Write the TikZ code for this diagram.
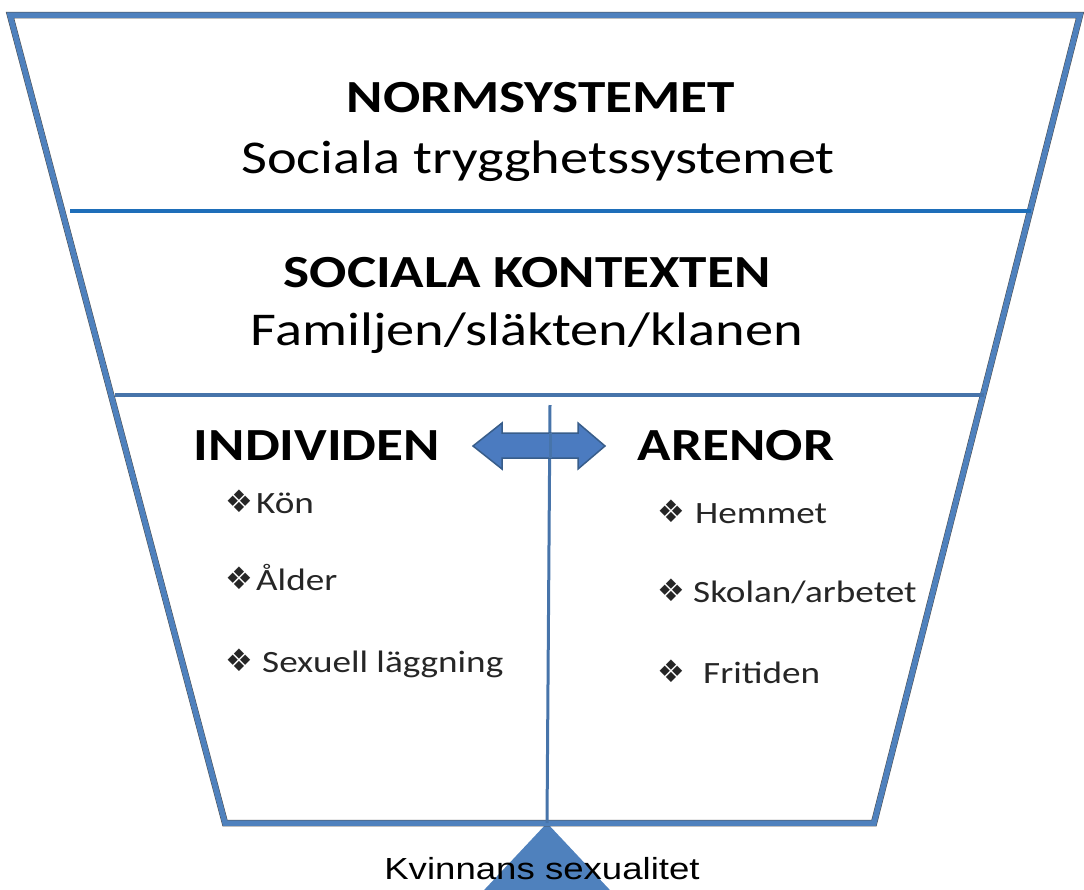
\documentclass[tikz,border=0pt]{standalone}
\usepackage{fontspec}
\setmainfont{Carlito}[FakeStretch=1.2]
\newfontfamily\arialf{Liberation Sans}[FakeStretch=1.2]
\newfontfamily\dejavu{DejaVu Sans}
\definecolor{frameblue}{RGB}{79,129,189}
\definecolor{lineblue}{RGB}{30,110,185}
\definecolor{arrowedge}{RGB}{56,93,138}
\newcommand{\blt}[1]{\makebox[#1pt][l]{\raisebox{1pt}{\dejavu\fontsize{31}{31}\selectfont ❖}}}
\tikzset{
  head/.style={font=\fontsize{46}{46}\selectfont\bfseries, anchor=base, inner sep=0pt},
  sub/.style={font=\fontsize{47}{47}\selectfont, anchor=base, inner sep=0pt},
  item/.style={font=\fontsize{31}{31}\selectfont, anchor=base west, inner sep=0pt, text=black!85},
  frame/.style={draw=frameblue, line width=5.5pt, line join=miter},
}
\begin{document}
\begin{tikzpicture}[x=1pt,y=-1pt]
\useasboundingbox (0,0) rectangle (1084,889);
% frame
\coordinate (tl) at (10,15);
\coordinate (tr) at (1080,15);
\coordinate (br) at (874,823);
\coordinate (bl) at (225,823);
% triangle
\coordinate (apex) at (547,823);
\coordinate (tbl) at (470,905);
\coordinate (tbr) at (624,905);
\fill[frameblue] (apex) -- (tbr) -- (tbl) -- cycle;
% outline
\draw[black!70, line width=6.5pt, line join=miter] (tl) -- (tr) -- (br) -- (bl) -- cycle;
\draw[frame] (tl) -- (tr) -- (br) -- (bl) -- cycle;
% dividers
\coordinate (d1l) at (70,211);
\coordinate (d1r) at (1031,211);
\coordinate (d2l) at (115,395);
\coordinate (d2r) at (984,395);
\draw[lineblue, line width=4pt] (d1l) -- (d1r);
\draw[frameblue!90!black, line width=3.5pt] (d2l) -- (d2r);
% vertical line
\coordinate (vt) at (550,405);
\draw[frameblue!90!black, line width=3pt] (vt) -- (apex);
% texts
\node[head] (norm) at (541,112) {NORMSYSTEMET};
\node[sub] (trygg) at (538,173) {Sociala trygghetssystemet};
\node[head] (soc) at (527,287) {SOCIALA KONTEXTEN};
\node[sub] (fam) at (527,345) {Familjen/släkten/klanen};
\node[head] (ind) at (317,460) {INDIVIDEN};
\node[head] (are) at (736,460) {ARENOR};
% double arrow
\fill[frameblue!95!blue, draw=arrowedge, line width=1.5pt, line join=miter]
  (473,446) -- (502,423) -- (502,433) -- (578,433) -- (578,423) -- (605,446)
  -- (578,469) -- (578,458) -- (502,458) -- (502,469) -- cycle;
\draw[frameblue!90!black, line width=3pt] (550,433) -- (550,458);
% bullet items
\node[item] (kon) at (225,513) {\blt{31}Kön};
\node[item] (alder) at (225,590) {\blt{31}Ålder};
\node[item] (sex) at (225,672) {\blt{37}Sexuell läggning};
\node[item] (hem) at (657,523) {\blt{38}Hemmet};
\node[item] (sko) at (657,602) {\blt{36}Skolan/arbetet};
\node[item] (fri) at (657,683) {\blt{46}Fritiden};
% bottom label
\node[font=\arialf\fontsize{30.5}{30.5}\selectfont, anchor=base, inner sep=0pt] (kvinna) at (542,879) {Kvinnans sexualitet};
\end{tikzpicture}
\end{document}
